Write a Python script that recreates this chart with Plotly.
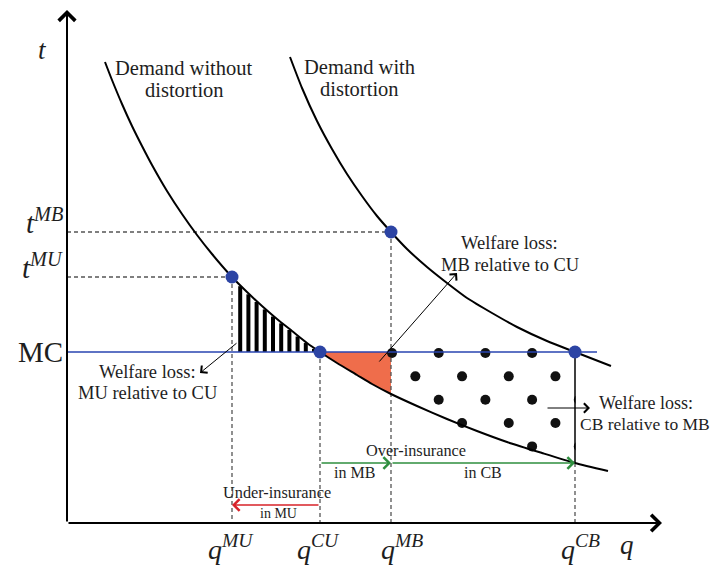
import numpy as np
import plotly.graph_objects as go

# ---------------- data ----------------
# q = quantity of insurance, t = price; units chosen so the axes corner is (0, 0)
Q_DEMAND_NO_DIST = [0.38, 0.45, 0.55, 0.65, 0.75, 0.85, 1.00, 1.15, 1.30, 1.45, 1.65, 1.80, 1.95,
                    2.10, 2.25, 2.40, 2.53, 2.70, 2.90, 3.05, 3.24, 3.50, 3.80, 4.10, 4.40, 4.75,
                    5.08, 5.41]
T_DEMAND_NO_DIST = [4.61, 4.43, 4.19, 3.97, 3.77, 3.58, 3.32, 3.09, 2.88, 2.69, 2.46, 2.31, 2.17,
                    2.04, 1.92, 1.80, 1.71, 1.60, 1.48, 1.39, 1.29, 1.17, 1.04, 0.92, 0.81, 0.70,
                    0.60, 0.52]
Q_DEMAND_DIST = [2.23, 2.35, 2.50, 2.65, 2.80, 2.95, 3.10, 3.24, 3.40, 3.60, 3.80, 4.00, 4.25,
                 4.50, 4.80, 5.08, 5.44]
T_DEMAND_DIST = [4.66, 4.35, 4.02, 3.74, 3.49, 3.27, 3.07, 2.91, 2.74, 2.56, 2.40, 2.25, 2.10,
                 1.96, 1.82, 1.71, 1.57]

MC = 1.71
T_MU = 2.46
T_MB = 2.91
Q_MU = 1.65
Q_CU = 2.53
Q_MB = 3.24
Q_CB = 5.08
MC_END = 5.30
Q_AXIS_END = 5.95
T_AXIS_END = 5.13

EQ_Q = [Q_MU, Q_CU, Q_MB, Q_CB]
EQ_T = [T_MU, MC, T_MB, MC]

T_TICK_LABELS = ["<i>t</i><sup><i>MB</i></sup>", "<i>t</i><sup><i>MU</i></sup>", "MC"]
Q_TICK_LABELS = ["<i>q</i><sup><i>MU</i></sup>", "<i>q</i><sup><i>CU</i></sup>",
                 "<i>q</i><sup><i>MB</i></sup>", "<i>q</i><sup><i>CB</i></sup>"]

# ---------------- style ----------------
FONT = "Liberation Serif"
TXT = "#1e1e1e"
BLUE_LINE = "#2844b0"
BLUE_PT = "#2c44a4"
ORANGE = "#ef6d4b"
GREEN = "#2f8f3f"
RED = "#d8232a"
DASH_C = "#555555"
Q_LABEL_SHIFT = [-0.015, -0.015, 0.11, 0.05]   # label placement relative to its tick
STRIPE_STEP = 0.082                             # hatch spacing (texture)
DOT_DQ = 0.467                                  # dot texture spacing
DOT_DT = 0.2335

qd1 = np.array(Q_DEMAND_NO_DIST)
td1 = np.array(T_DEMAND_NO_DIST)
t_at_qcb = float(np.interp(Q_CB, qd1, td1))
t_at_qmb = float(np.interp(Q_MB, qd1, td1))

fig = go.Figure()

# orange welfare-loss region (CU -> MB, between MC and undistorted demand)
sel = (qd1 >= Q_CU) & (qd1 <= Q_MB)
ox = [Q_CU, Q_MB, Q_MB] + list(qd1[sel][::-1])
oy = [MC, MC, t_at_qmb] + list(td1[sel][::-1])
fig.add_trace(go.Scatter(x=ox, y=oy, fill="toself", fillcolor=ORANGE, mode="lines",
                         line=dict(width=0), hoverinfo="skip"))

# hatched region (MU -> CU): vertical stripes between MC and the undistorted demand
sx, sy = [], []
q = Q_MU + STRIPE_STEP
while q < Q_CU - 0.03:
    sx += [q, q, None]
    sy += [MC, float(np.interp(q, qd1, td1)) - 0.01, None]
    q += STRIPE_STEP
fig.add_trace(go.Scatter(x=sx, y=sy, mode="lines", line=dict(color="black", width=4),
                         hoverinfo="skip"))

# dashed guides
gx = [0, Q_MB, None, 0, Q_MU, None, Q_MU, Q_MU, None, Q_CU, Q_CU, None, Q_MB, Q_MB, None, Q_CB, Q_CB]
gy = [T_MB, T_MB, None, T_MU, T_MU, None, T_MU, 0, None, MC, 0, None, T_MB, 0, None, t_at_qcb, 0]
fig.add_trace(go.Scatter(x=gx, y=gy, mode="lines",
                         line=dict(color=DASH_C, width=1.3, dash="4px,3px"), hoverinfo="skip"))

# dotted texture (CB relative to MB); dots on the right border are cut in half
dots_x, dots_y = [], []
cut_t = []
for j in range(7):
    t = MC - 0.01 - j * DOT_DT
    q = Q_MB + 0.01 + (j % 2) * DOT_DQ / 2
    while q <= Q_CB + 0.06:
        if t >= np.interp(min(q, Q_CB), qd1, td1) - 0.03:
            if q <= Q_CB:
                dots_x.append(q)
                dots_y.append(t)
            elif t < MC - 0.1:
                dots_x.append(q)
                dots_y.append(t)
                cut_t.append(t)
        q += DOT_DQ
fig.add_trace(go.Scatter(x=dots_x, y=dots_y, mode="markers",
                         marker=dict(size=10, color="#111111"), hoverinfo="skip"))
if cut_t:
    lo, hi = min(cut_t) - 0.07, max(cut_t) + 0.07
    fig.add_trace(go.Scatter(x=[Q_CB + 0.005, Q_CB + 0.12, Q_CB + 0.12, Q_CB + 0.005],
                             y=[lo, lo, hi, hi], fill="toself", fillcolor="white",
                             mode="lines", line=dict(width=0), hoverinfo="skip"))

# solid right edge of dotted region
fig.add_trace(go.Scatter(x=[Q_CB, Q_CB], y=[MC, t_at_qcb], mode="lines",
                         line=dict(color="black", width=1.5), hoverinfo="skip"))

# demand curves
fig.add_trace(go.Scatter(x=Q_DEMAND_NO_DIST, y=T_DEMAND_NO_DIST, mode="lines",
                         line=dict(color="black", width=2, shape="spline", smoothing=0.6),
                         hoverinfo="skip"))
fig.add_trace(go.Scatter(x=Q_DEMAND_DIST, y=T_DEMAND_DIST, mode="lines",
                         line=dict(color="black", width=2, shape="spline", smoothing=0.6),
                         hoverinfo="skip"))

# marginal cost line
fig.add_trace(go.Scatter(x=[0, MC_END], y=[MC, MC], mode="lines",
                         line=dict(color=BLUE_LINE, width=1.5), hoverinfo="skip"))

# equilibrium points
fig.add_trace(go.Scatter(x=EQ_Q, y=EQ_T, mode="markers",
                         marker=dict(size=13, color=BLUE_PT), hoverinfo="skip"))

ann = []


def arrow(qh, th, qt, tt, color="black", width=1.0, head=4, size=1.8):
    ann.append(dict(x=qh, y=th, ax=qt, ay=tt, xref="x", yref="y", axref="x", ayref="y",
                    text="", showarrow=True, arrowhead=head, arrowsize=size,
                    arrowwidth=width, arrowcolor=color, standoff=0, startstandoff=0))


def label(text, q, t, size, xanchor="center", yanchor="middle"):
    ann.append(dict(x=q, y=t, xref="x", yref="y", text=text, showarrow=False,
                    xanchor=xanchor, yanchor=yanchor,
                    font=dict(family=FONT, size=size, color=TXT)))


# axes
arrow(0, T_AXIS_END, 0, 0, width=2, head=4, size=1.6)
arrow(Q_AXIS_END, 0, 0, 0, width=2, head=4, size=1.6)

# welfare-loss pointers
arrow(1.33, 1.50, 1.71, 1.81, width=1, size=1.8)
arrow(3.90, 2.50, 3.11, 1.60, width=1, size=1.8)
arrow(5.23, 1.15, 4.79, 1.15, width=1, size=1.8)

# over / under insurance arrows
arrow(Q_MB, t_at_qcb, Q_CU, t_at_qcb, color=GREEN, width=1.4, head=4, size=1.6)
arrow(Q_CB, t_at_qcb, Q_MB, t_at_qcb, color=GREEN, width=1.4, head=4, size=1.6)
arrow(Q_MU, 0.18, Q_CU, 0.18, color=RED, width=1.4, head=4, size=1.6)

# texts
label("Demand without", 1.17, 4.55, 20.5)
label("distortion", 1.17, 4.33, 20.5)
label("Demand with", 2.92, 4.56, 20.5)
label("distortion", 2.92, 4.34, 20.5)
label("Welfare loss:", 4.42, 2.80, 18.5)
label("MB relative to CU", 4.43, 2.58, 18.5)
label("Welfare loss:", 0.80, 1.51, 18.5)
label("MU relative to CU", 0.80, 1.30, 18.5)
label("Welfare loss:", 5.79, 1.20, 18)
label("CB relative to MB", 5.78, 0.99, 17.5)
label("Over-insurance", 3.49, 0.73, 16.3)
label("in MB", 2.87, 0.51, 16)
label("in CB", 4.16, 0.51, 16)
label("Under-insurance", 2.10, 0.31, 16.3)
label("in MU", 2.11, 0.10, 14)

# axis names
label("<i>t</i>", -0.25, 4.73, 27)
label("<i>q</i>", 5.60, -0.22, 27)

# tick labels
for txt, t in zip(T_TICK_LABELS, [T_MB, T_MU, MC]):
    label(txt, -0.02, t + (0.11 if txt != "MC" else 0.0), 29, xanchor="right")
for txt, q, dq in zip(Q_TICK_LABELS, EQ_Q, Q_LABEL_SHIFT):
    label(txt, q + dq, -0.05, 28, yanchor="top")

# the page body adds an 8px margin, so the figure is 8px smaller than the window
fig.update_layout(
    width=712, height=558,
    margin=dict(l=0, r=0, t=0, b=0),
    paper_bgcolor="white", plot_bgcolor="white",
    showlegend=False,
    xaxis=dict(range=[-0.59, 6.53], visible=False, fixedrange=True),
    yaxis=dict(range=[-0.43, 5.15], visible=False, fixedrange=True),
    annotations=ann,
)

fig.write_html("out.html")
